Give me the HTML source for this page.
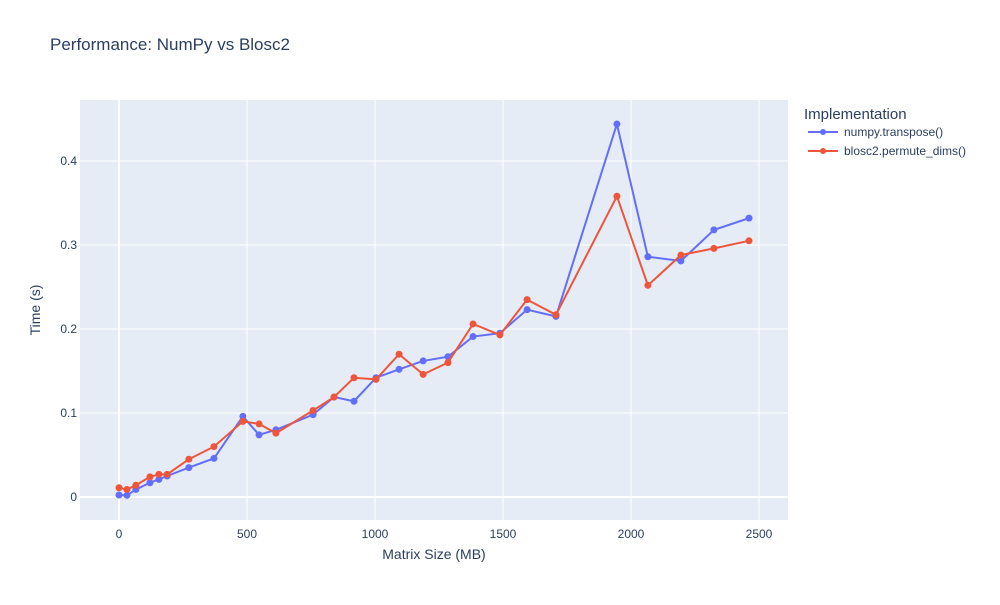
<!DOCTYPE html>
<html><head><meta charset="utf-8"><style>
body{margin:0;background:#fff;font-family:"Liberation Sans",sans-serif}
svg text{font-family:"Liberation Sans",sans-serif}
</style></head><body>
<svg id="chart" width="1000" height="600">
<rect width="1000" height="600" fill="#fff"/>
<text x="50" y="50" font-size="17" fill="#2a3f5f">Performance: NumPy vs Blosc2</text>
<rect x="80" y="100" width="708" height="420" fill="#e5ecf6"/>
<g id="grid"></g><g id="series"></g><g id="ticks"></g>
<text x="434" y="559" font-size="14" fill="#2a3f5f" text-anchor="middle">Matrix Size (MB)</text>
<text transform="translate(40,310) rotate(-90)" font-size="14" fill="#2a3f5f" text-anchor="middle">Time (s)</text>
<g>
<text x="804" y="119" font-size="15" fill="#2a3f5f">Implementation</text>
<g><line x1="808" y1="132" x2="838" y2="132" stroke="#636efa" stroke-width="2"/><circle cx="823" cy="132" r="3" fill="#636efa"/><text x="844" y="136" font-size="12" fill="#2a3f5f">numpy.transpose()</text></g>
<g><line x1="808" y1="151" x2="838" y2="151" stroke="#ef553b" stroke-width="2"/><circle cx="823" cy="151" r="3" fill="#ef553b"/><text x="844" y="155" font-size="12" fill="#2a3f5f">blosc2.permute_dims()</text></g>
</g>
</svg>
<script>
const sizes=[0,31,66,121,156,188,273,371,484,547,613,758,840,918,1004,1094,1188,1285,1383,1488,1594,1707,1945,2066,2195,2324,2461];
const numpyTimes=[0.0024,0.002,0.009,0.017,0.021,0.025,0.035,0.046,0.096,0.074,0.080,0.098,0.119,0.114,0.142,0.152,0.162,0.167,0.191,0.195,0.223,0.215,0.444,0.286,0.281,0.318,0.332];
const bloscTimes=[0.011,0.009,0.014,0.024,0.027,0.027,0.045,0.060,0.090,0.087,0.076,0.103,0.119,0.142,0.140,0.170,0.146,0.160,0.206,0.193,0.235,0.217,0.358,0.252,0.288,0.296,0.305];
const xTicks=[0,500,1000,1500,2000,2500];
const yTicks=[0,0.1,0.2,0.3,0.4];
const yTickLabels=["0","0.1","0.2","0.3","0.4"];
const NS="http://www.w3.org/2000/svg";
const xs=v=>119+v*0.256, ys=v=>497-v*840;
function mk(t,a,p){const e=document.createElementNS(NS,t);for(const k in a)e.setAttribute(k,a[k]);p.appendChild(e);return e;}
const grid=document.getElementById('grid'),ticks=document.getElementById('ticks'),ser=document.getElementById('series');
xTicks.forEach(v=>{
 const l=mk('line',{x1:xs(v),x2:xs(v),y1:100,y2:520,stroke:'#fff','stroke-width':v===0?2:1},grid);
 
 
 const t=mk('text',{x:xs(v),y:538,'font-size':12,fill:'#2a3f5f','text-anchor':'middle'},ticks);t.textContent=v;
 
 
});
yTicks.forEach((v,i)=>{
 const l=mk('line',{x1:80,x2:788,y1:ys(v),y2:ys(v),stroke:'#fff','stroke-width':v===0?2:1},grid);
 
 
 const t=mk('text',{x:77,y:ys(v)+4,'font-size':12,fill:'#2a3f5f','text-anchor':'end'},ticks);t.textContent=yTickLabels[i];
 
 
});
function draw(vals,color,name){
 const g=mk('g',{},ser);
 
 
 const p=mk('polyline',{points:sizes.map((s,i)=>xs(s)+','+ys(vals[i])).join(' '),fill:'none',stroke:color,'stroke-width':2},g);
 
 
 sizes.forEach((s,i)=>{
  const c=mk('circle',{cx:xs(s),cy:ys(vals[i]),r:3.5,fill:color},g);
  
  
 });
}
draw(numpyTimes,'#636efa','numpy-series');
draw(bloscTimes,'#ef553b','blosc2-series');
</script>
</body></html>
